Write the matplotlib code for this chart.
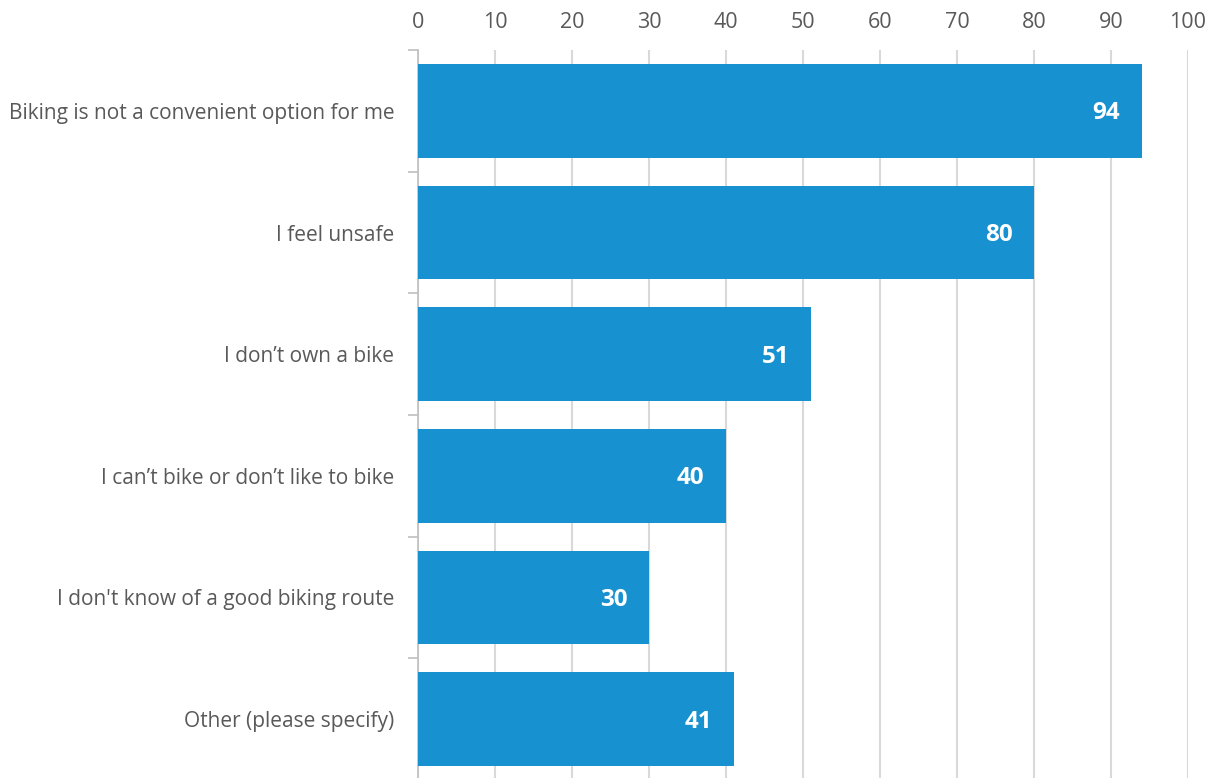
"""Reasons for not biking - horizontal bar chart"""

from matplotlib import pyplot as plt

categories = [
    "Biking is not a convenient option for me",
    "I feel unsafe",
    "I don\u2019t own a bike",
    "I can\u2019t bike or don\u2019t like to bike",
    "I don't know of a good biking route",
    "Other (please specify)",
]
values = [94, 80, 51, 40, 30, 41]
xticks = list(range(0, 101, 10))

plt.rcParams["font.family"] = ["Open Sans", "DejaVu Sans"]

fig = plt.figure(figsize=(12.17, 7.78), dpi=100)
ax = fig.add_axes([418 / 1217, -2 / 778, (1188 - 418) / 1217, (778 - 50 + 2) / 778])

pos = list(range(len(categories)))
ax.barh(pos, values, height=0.77, color="#1791d0", zorder=3)
for p, v in zip(pos, values):
    ax.text(v - 2.8, p + 0.02, str(v), ha="right", va="center", color="white",
            fontsize=17.5, fontweight="bold", zorder=4)

ax.set_ylim(len(categories) - 0.5, -0.5)
ax.set_xlim(0, 100)
ax.set_xticks(xticks)
ax.xaxis.tick_top()
ax.tick_params(axis="x", length=0, pad=12, labelsize=15.5, labelcolor="#595959")
ax.set_yticks(pos)
ax.set_yticklabels(categories)
ax.set_yticks([p + 0.5 for p in [-1] + pos], minor=True)
ax.tick_params(axis="y", which="major", length=0, pad=17, labelsize=15,
               labelcolor="#595959")
ax.tick_params(axis="y", which="minor", length=7, width=1.2, color="#bfbfbf")

ax.grid(axis="x", color="#d9d9d9", linewidth=1.5, zorder=0)
for side in ["top", "right", "bottom"]:
    ax.spines[side].set_visible(False)
ax.spines["left"].set_color("#bfbfbf")
ax.spines["left"].set_linewidth(1.2)

fig.savefig("out.png", dpi=100)
plt.close()
